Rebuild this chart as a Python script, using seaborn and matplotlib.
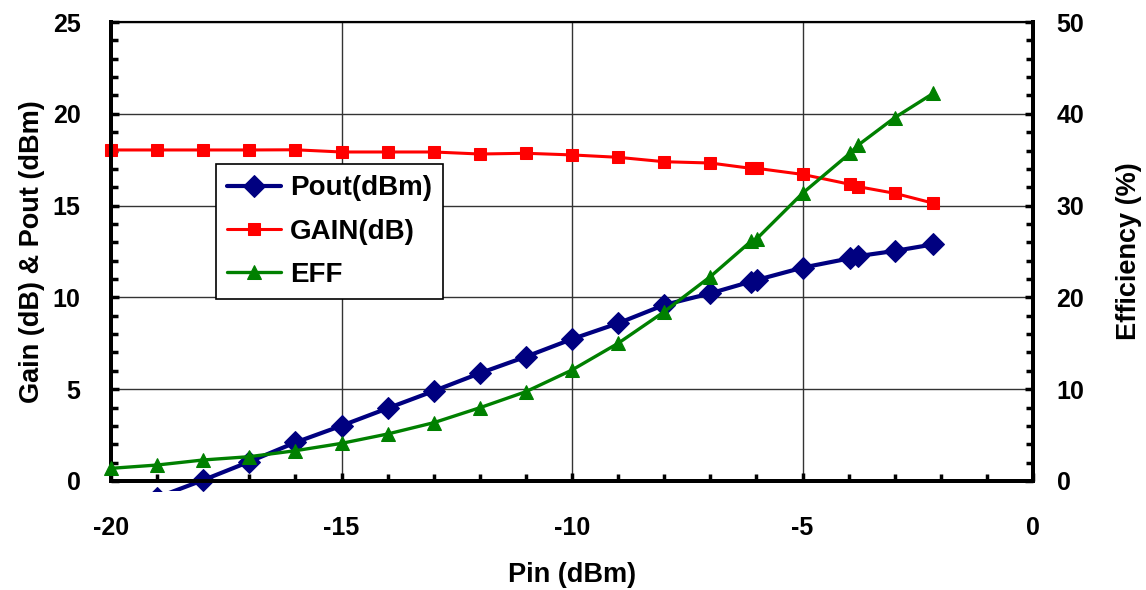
import numpy as np
import pandas as pd
import matplotlib
matplotlib.use("Agg")
import matplotlib.pyplot as plt
import seaborn as sns
from matplotlib.patches import Rectangle
from matplotlib.ticker import MultipleLocator

# ---- data ----
pin_pout = [-19, -18, -17, -16, -15, -14, -13, -12, -11, -10, -9, -8, -7, -6.12, -5.99, -5, -3.97, -3.79, -3, -2.16]
pout = [-0.9, 0.05, 1.05, 2.1, 3.01, 3.96, 4.9, 5.87, 6.77, 7.73, 8.59, 9.59, 10.22, 10.86, 10.95, 11.62, 12.13, 12.25, 12.53, 12.89]

pin = [-20, -19, -18, -17, -16, -15, -14, -13, -12, -11, -10, -9, -8, -7, -6.12, -5.99, -5, -3.97, -3.79, -3, -2.16]
gain = [18.03, 18.03, 18.03, 18.03, 18.04, 17.92, 17.92, 17.92, 17.81, 17.85, 17.76, 17.63, 17.39, 17.32, 17.03, 17.03, 16.70, 16.16, 16.03, 15.67, 15.13]
eff = [1.38, 1.74, 2.29, 2.65, 3.30, 4.10, 5.12, 6.35, 7.98, 9.73, 12.09, 15.0, 18.44, 22.26, 26.1, 26.4, 31.34, 35.7, 36.6, 39.58, 42.24]

x_ticks = [-20, -15, -10, -5, 0]
left_ticks = [0, 5, 10, 15, 20, 25]
right_ticks = [0, 10, 20, 30, 40, 50]

NAVY = "#000080"
RED = "#FF0000"
GREEN = "#008000"

sns.set_theme(style="white")
plt.rcParams["font.family"] = ["Liberation Sans", "DejaVu Sans"]
plt.rcParams["font.weight"] = "bold"
plt.rcParams["axes.unicode_minus"] = False
plt.rcParams["text.color"] = "black"
plt.rcParams["axes.labelcolor"] = "black"
plt.rcParams["xtick.color"] = "black"
plt.rcParams["ytick.color"] = "black"

fig = plt.figure(figsize=(11.46, 5.90), dpi=100)
ax = fig.add_axes([111 / 1146, 1 - 481 / 590, (1033 - 111) / 1146, (481 - 22) / 590])
ax2 = ax.twinx()

df_p = pd.DataFrame({"Pin": pin_pout, "Pout": pout})
df_g = pd.DataFrame({"Pin": pin, "Gain": gain, "Eff": eff})

sns.lineplot(data=df_p, x="Pin", y="Pout", ax=ax, color=NAVY, marker="D", markersize=11,
             linewidth=3, markeredgecolor=NAVY, label="Pout(dBm)", legend=False, zorder=4)
pout_line = ax.lines[-1]
sns.lineplot(data=df_g, x="Pin", y="Gain", ax=ax, color=RED, marker="s", markersize=8.5,
             linewidth=2.2, markeredgecolor=RED, label="GAIN(dB)", legend=False, zorder=3)
gain_line = ax.lines[-1]
sns.lineplot(data=df_g, x="Pin", y="Eff", ax=ax2, color=GREEN, marker="^", markersize=10,
             linewidth=2.4, markeredgecolor=GREEN, label="EFF", legend=False, zorder=3)
eff_line = ax2.lines[-1]

# line slightly extends below the plot floor as in the original
pout_line.set_clip_path(Rectangle((0, -0.022), 1, 1.022, transform=ax.transAxes))
for ln in (gain_line, eff_line):
    ln.set_clip_on(False)

ax.set_xlim(-20, 0)
ax.set_ylim(0, 25)
ax2.set_ylim(0, 50)

ax.set_xticks(x_ticks)
ax.set_yticks(left_ticks)
ax2.set_yticks(right_ticks)
ax.xaxis.set_minor_locator(MultipleLocator(1))
ax.yaxis.set_minor_locator(MultipleLocator(1))
ax2.yaxis.set_minor_locator(MultipleLocator(2))

ax.grid(True, which="major", color="#333333", linewidth=1.0)
ax2.grid(False)
ax.set_axisbelow(True)

tick_fs = 18
ax.tick_params(axis="x", which="major", direction="in", length=6, width=2.5, pad=25,
               labelsize=tick_fs, bottom=True, top=False, colors="black")
ax.tick_params(axis="x", which="minor", direction="in", length=5, width=2.5, bottom=True, top=False)
ax.tick_params(axis="y", which="major", direction="in", length=6, width=2.5, pad=22,
               labelsize=tick_fs, left=True, right=False, colors="black")
ax.tick_params(axis="y", which="minor", direction="in", length=5, width=2.5, left=True, right=False)
ax2.tick_params(axis="y", which="major", direction="in", length=6, width=2.5, pad=17,
                labelsize=tick_fs, right=True, left=False, colors="black")
ax2.tick_params(axis="y", which="minor", direction="in", length=5, width=2.5, right=True, left=False)

for a in (ax, ax2):
    for lab in a.get_xticklabels() + a.get_yticklabels():
        lab.set_fontweight("bold")
    for side in ("left", "right", "bottom"):
        a.spines[side].set_linewidth(2.8)
        a.spines[side].set_color("black")
    a.spines["top"].set_linewidth(1.5)
    a.spines["top"].set_color("black")

label_fs = 19.5
ax.set_xlabel("Pin (dBm)", fontsize=label_fs, fontweight="bold", color="black")
ax.set_ylabel("Gain (dB) & Pout (dBm)", fontsize=label_fs, fontweight="bold", color="black")
ax2.set_ylabel("Efficiency (%)", fontsize=label_fs, fontweight="bold", color="black")
ax.xaxis.set_label_coords(0.5, -0.176)
ax.yaxis.set_label_coords(-0.0716, 0.5)
ax2.yaxis.set_label_coords(1.090, 0.5)

leg = ax2.legend([pout_line, gain_line, eff_line], ["Pout(dBm)", "GAIN(dB)", "EFF"],
                 loc="upper left", bbox_to_anchor=(0.114, 0.69),
                 prop={"weight": "bold", "size": 20}, frameon=True, fancybox=False,
                 edgecolor="black", framealpha=1, handlelength=1.95, handletextpad=0.3,
                 labelspacing=0.62, borderpad=0.4, borderaxespad=0)
leg.get_frame().set_linewidth(1.2)
for t in leg.get_texts():
    t.set_color("black")
leg.set_zorder(10)

fig.savefig("out.png", dpi=100, facecolor="white")
